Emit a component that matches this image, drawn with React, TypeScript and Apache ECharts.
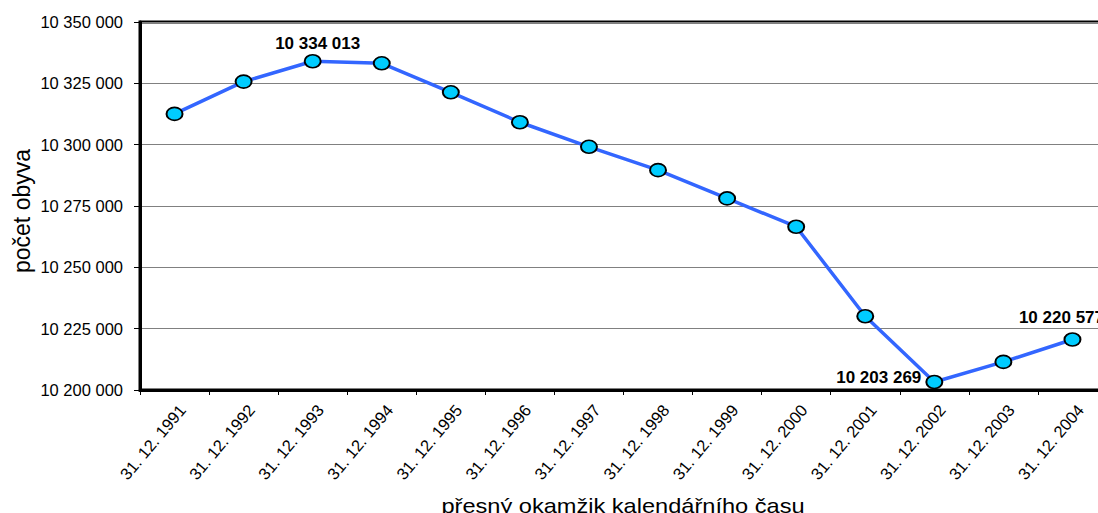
import React, { useEffect, useRef } from "react";
import * as echarts from "echarts";

const categories = [
  "31. 12. 1991",
  "31. 12. 1992",
  "31. 12. 1993",
  "31. 12. 1994",
  "31. 12. 1995",
  "31. 12. 1996",
  "31. 12. 1997",
  "31. 12. 1998",
  "31. 12. 1999",
  "31. 12. 2000",
  "31. 12. 2001",
  "31. 12. 2002",
  "31. 12. 2003",
  "31. 12. 2004",
];

const population = [
  10312548, 10325697, 10334013, 10333161, 10321344, 10309137, 10299125,
  10289621, 10278098, 10266546, 10230060, 10203269, 10211455, 10220577,
];

const yMin = 10200000;
const yMax = 10350000;
const yStep = 25000;

const xTitle = "přesný okamžik kalendářního času";
const yTitle = "počet obyva";

const FONT = '"Liberation Sans", Arial, sans-serif';

const fmt = (n: number) =>
  String(Math.round(n)).replace(/\B(?=(\d{3})+(?!\d))/g, " ");

const ellipse = "path://M0 50 A50 50 0 1 0 100 50 A50 50 0 1 0 0 50 Z";

export default function App() {
  const ref = useRef<HTMLDivElement>(null);

  useEffect(() => {
    if (!ref.current) return;
    const chart = echarts.init(ref.current, undefined, { renderer: "svg" });

    const labelCfg: Record<number, any> = {
      2: { position: "top", distance: 4, offset: [5, 2] },
      11: { position: "left", distance: 4, offset: [0, -4] },
      13: { position: "top", distance: 4, offset: [-11, -2] },
    };

    const data = population.map((v, i) =>
      labelCfg[i]
        ? {
            value: v,
            label: {
              show: true,
              ...labelCfg[i],
              formatter: (p: any) => fmt(p.value),
              fontFamily: FONT,
              fontSize: 17,
              fontWeight: "bold",
              color: "#000",
            },
          }
        : { value: v }
    );

    chart.setOption({
      animation: false,
      backgroundColor: "#fff",
      grid: {
        left: 140,
        right: 23,
        top: 22,
        bottom: 123,
        show: true,
        borderColor: "#000",
        borderWidth: 3,
        backgroundColor: "transparent",
      },
      xAxis: {
        type: "category",
        data: categories,
        boundaryGap: true,
        axisLine: { show: true, lineStyle: { color: "#000", width: 3 } },
        axisTick: {
          show: true,
          alignWithLabel: false,
          interval: 0,
          length: 5,
          lineStyle: { color: "#000", width: 1 },
        },
        axisLabel: {
          interval: 0,
          rotate: 50,
          margin: 26,
          padding: [0, -12, 0, 0],
          fontFamily: FONT,
          fontSize: 16.5,
          color: "#000",
        },
        splitLine: { show: false },
      },
      yAxis: {
        type: "value",
        min: yMin,
        max: yMax,
        interval: yStep,
        axisLine: { show: true, lineStyle: { color: "#000", width: 3 } },
        axisTick: {
          show: true,
          length: 6,
          lineStyle: { color: "#000", width: 1 },
        },
        axisLabel: {
          margin: 17,
          fontFamily: FONT,
          fontSize: 16.5,
          color: "#000",
          formatter: (v: number) => fmt(v),
        },
        splitLine: { show: true, lineStyle: { color: "#808080", width: 1 } },
      },
      series: [
        {
          type: "line",
          data,
          symbol: ellipse,
          symbolSize: [16, 13],
          showAllSymbol: true,
          lineStyle: { color: "#3366FF", width: 3.5 },
          itemStyle: { color: "#00CCFF", borderColor: "#000", borderWidth: 1.8 },
          emphasis: { disabled: true },
          z: 3,
        },
      ],
      graphic: [
        {
          type: "text",
          x: 623,
          y: 506,
          scaleX: 1.18,
          style: {
            text: xTitle,
            fontFamily: FONT,
            fontSize: 20,
            fill: "#000",
            align: "center",
            verticalAlign: "middle",
          },
        },
        {
          type: "text",
          x: 21.5,
          y: 211,
          rotation: Math.PI / 2,
          style: {
            text: yTitle,
            fontFamily: FONT,
            fontSize: 23,
            fill: "#000",
            align: "center",
            verticalAlign: "middle",
          },
        },
      ],
    });

    return () => chart.dispose();
  }, []);

  return (
    <div
      style={{
        position: "fixed",
        left: 0,
        top: 0,
        width: 1098,
        height: 513,
        overflow: "hidden",
        background: "#fff",
      }}
    >
      <div ref={ref} style={{ width: 1130, height: 513 }} />
    </div>
  );
}
